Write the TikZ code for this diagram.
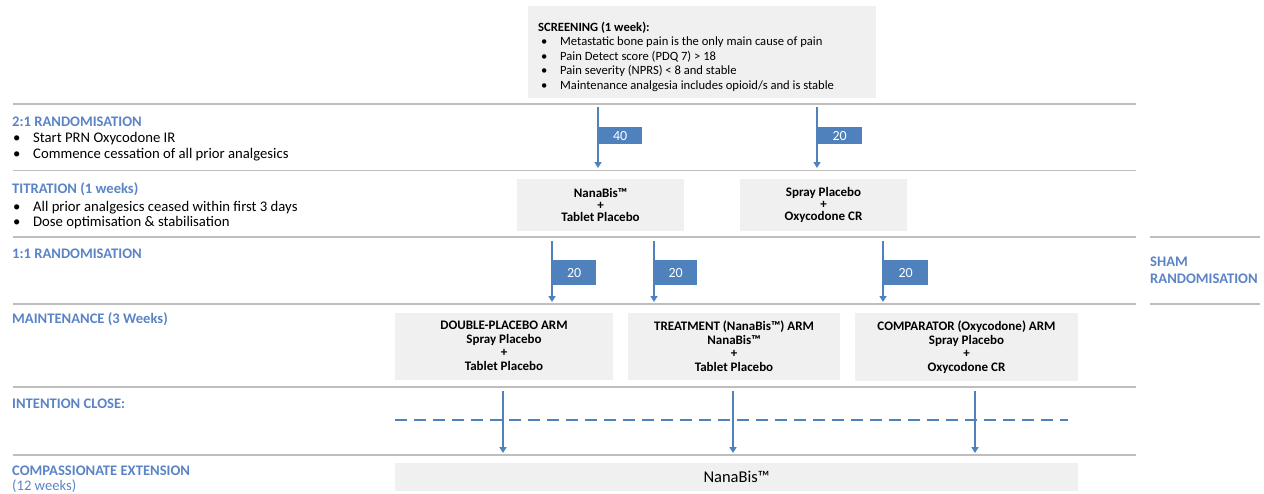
\documentclass[tikz,border=0pt]{standalone}
\usepackage{fontspec}
\setmainfont{Carlito}
\usepackage[HTML]{xcolor}
\usetikzlibrary{positioning, arrows.meta}
\definecolor{headblue}{HTML}{5A84C6}
\definecolor{arrowblue}{HTML}{4F81BD}
\definecolor{boxgrey}{HTML}{F0F0F0}
\definecolor{rulegrey}{HTML}{BEBEBE}

\begin{document}
\begin{tikzpicture}[x=1pt,y=-1pt,
  heading/.style={anchor=base west, inner sep=0pt, text=headblue, font=\fontsize{14.6}{16}\selectfont\bfseries},
  bulletline/.style={anchor=base west, inner sep=0pt, font=\fontsize{14.7}{16}\selectfont},
  armbox/.style={fill=boxgrey, inner sep=0pt, align=center, font=\fontsize{13}{13.5}\selectfont\bfseries},
  flag/.style={fill=arrowblue, text=white, anchor=north west, inner sep=0pt, minimum width=44pt, font=\fontsize{14}{16}\selectfont},
  arr/.style={draw=arrowblue, line width=1.7pt, -{Triangle[width=7pt,length=6pt]}},
  rule/.style={draw=rulegrey, line width=1.2pt}]
\useasboundingbox (0,0) rectangle (1264,493);

% section rules
\foreach \yy in {104,170.5,237,304,387,455}
  \draw[rule] (13,\yy) -- (1136,\yy);
\draw[rule] (1150,237) -- (1260,237);
\draw[rule] (1150,304) -- (1260,304);

% screening box
\node[fill=boxgrey, minimum width=348pt, minimum height=92pt, inner sep=0pt] (screen) at (702,52) {};
\node[anchor=base west, inner sep=0pt, align=left, font=\fontsize{12.6}{14.5}\selectfont] (screentxt) at (538,89)
  {\textbf{SCREENING (1 week):}\\
   \hspace*{3pt}\makebox[19pt][l]{\textbullet}Metastatic bone pain is the only main cause of pain\\
   \hspace*{3pt}\makebox[19pt][l]{\textbullet}Pain Detect score (PDQ 7) > 18\\
   \hspace*{3pt}\makebox[19pt][l]{\textbullet}Pain severity (NPRS) < 8 and stable\\
   \hspace*{3pt}\makebox[19pt][l]{\textbullet}Maintenance analgesia includes opioid/s and is stable};

% left column
\node[heading] (rand21) at (12,126.5) {2:1 RANDOMISATION};
\node[bulletline] (r21a) at (13,142.5) {\makebox[20pt][l]{\textbullet}Start PRN Oxycodone IR};
\node[bulletline] (r21b) at (13,158.5) {\makebox[20pt][l]{\textbullet}Commence cessation of all prior analgesics};
\node[heading] (titr) at (12,193) {TITRATION (1 weeks)};
\node[bulletline] (titra) at (13,211) {\makebox[20pt][l]{\textbullet}All prior analgesics ceased within first 3 days};
\node[bulletline] (titrb) at (13,226.5) {\makebox[20pt][l]{\textbullet}Dose optimisation \& stabilisation};
\node[heading] (rand11) at (12,258) {1:1 RANDOMISATION};
\node[heading] (maint) at (12,323) {MAINTENANCE (3 Weeks)};
\node[heading] (close) at (12,408) {INTENTION CLOSE:};
\node[heading] (ext) at (12,475) {COMPASSIONATE EXTENSION};
\node[heading, font=\fontsize{14.6}{16}\selectfont] (extw) at (12,490.5) {(12 weeks)};
\node[heading] (sham) at (1150,266) {SHAM};
\node[heading] (shamr) at (1150,283) {RANDOMISATION};

% titration boxes
\node[armbox, minimum width=167pt, minimum height=52pt, font=\fontsize{13}{12}\selectfont\bfseries] (titr1) at (600.5,205)
  {NanaBis™\\+\\Tablet Placebo};
\node[armbox, minimum width=167pt, minimum height=52pt, font=\fontsize{13}{12}\selectfont\bfseries] (titr2) at (823.5,205)
  {Spray Placebo\\+\\Oxycodone CR};

% maintenance arms
\node[armbox, minimum width=218pt, minimum height=67pt] (arm1) at (504,346)
  {DOUBLE-PLACEBO ARM\\Spray Placebo\\+\\Tablet Placebo};
\node[armbox, minimum width=212pt, minimum height=67pt] (arm2) at (734,346)
  {TREATMENT (NanaBis™) ARM\\NanaBis™\\+\\Tablet Placebo};
\node[armbox, minimum width=223pt, minimum height=68pt] (arm3) at (966.5,347)
  {COMPARATOR (Oxycodone) ARM\\Spray Placebo\\+\\Oxycodone CR};

% extension box
\node[fill=boxgrey, minimum width=683pt, minimum height=28pt, inner sep=0pt, font=\fontsize{16.5}{18}\selectfont] (extbox) at (736.5,477) {NanaBis™};

% 2:1 randomisation arrows
\coordinate (s1) at (598,107); \coordinate (e1) at (598,168);
\coordinate (s2) at (817,107); \coordinate (e2) at (817,168);
\draw[arr] (s1) -- (e1);
\draw[arr] (s2) -- (e2);
\node[flag, minimum height=17pt] (n40) at (598,127) {40};
\node[flag, minimum height=17pt, minimum width=45pt] (n20a) at (817,127) {20};

% 1:1 randomisation arrows
\coordinate (s3) at (552,241); \coordinate (e3) at (552,302);
\coordinate (s4) at (654,241); \coordinate (e4) at (654,302);
\coordinate (s5) at (883,241); \coordinate (e5) at (883,302);
\draw[arr] (s3) -- (e3);
\draw[arr] (s4) -- (e4);
\draw[arr] (s5) -- (e5);
\node[flag, minimum height=25pt] (n20b) at (552,260) {20};
\node[flag, minimum height=25pt, minimum width=43pt] (n20c) at (654,260) {20};
\node[flag, minimum height=25pt, minimum width=45pt] (n20d) at (883,260) {20};

% intention close
\coordinate (dl) at (395,420); \coordinate (dr) at (1068,420);
\draw[draw=arrowblue, line width=2.2pt, dash pattern=on 12pt off 7pt] (dl) -- (dr);
\coordinate (s6) at (503,391); \coordinate (e6) at (503,453);
\coordinate (s7) at (733,391); \coordinate (e7) at (733,453);
\coordinate (s8) at (975,391); \coordinate (e8) at (975,453);
\draw[arr] (s6) -- (e6);
\draw[arr] (s7) -- (e7);
\draw[arr] (s8) -- (e8);
\end{tikzpicture}
\end{document}
